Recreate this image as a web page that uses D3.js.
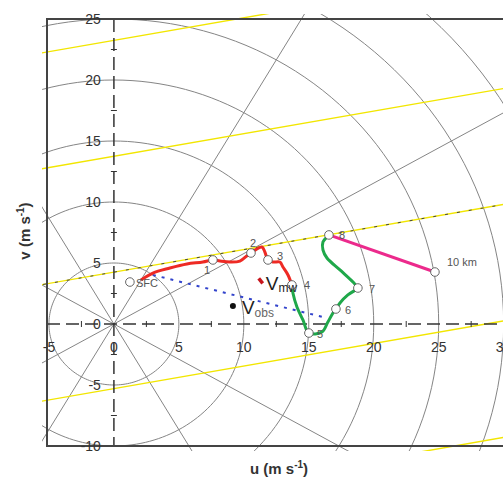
<!DOCTYPE html>
<html>
<head>
<meta charset="utf-8">
<script src="https://cdn.jsdelivr.net/npm/d3@7"></script>
<style>
  body { margin: 0; background: #fff; }
  text { font-family: Arial, "Liberation Sans", sans-serif; }
</style>
</head>
<body>
<div id="chart"></div>
<script>
// axis ticks
var uTicks = [-5, 0, 5, 10, 15, 20, 25, 30];
var vTicks = [-10, -5, 0, 5, 10, 15, 20, 25];
var minorU = [-2.5, 2.5, 7.5, 12.5, 17.5, 22.5, 27.5];
var minorV = [-7.5, -2.5, 2.5, 7.5, 12.5, 17.5, 22.5];

// polar grid
var ringRadii = [5, 10, 15, 20, 25, 30, 35, 40];
var spokeAngles = [30, 60, 120, 150, 210, 240, 300, 330];

// yellow reference lines: v = intercept + slope * u
var yellowIntercepts = [23.25, 13.75, 4.25, -5.3, -14.85];
var yellowSlope = 0.185;

// hodograph levels
var levelNames = ["SFC", "1", "2", "3", "4", "5", "6", "7", "8", "10 km"];
var levelU = [1.23, 7.62, 10.55, 11.86, 13.70, 15.01, 17.09, 18.78, 16.55, 24.71];
var levelV = [3.44, 5.25, 5.82, 5.25, 3.20, -0.74, 1.23, 2.95, 7.30, 4.26];

// traced curve segments
var redU = [2.08, 3.0, 4.31, 5.62, 6.85, 7.62, 8.16, 8.93, 9.70, 10.32, 10.55, 11.39, 11.62, 11.86, 12.24, 12.78, 13.01, 13.40, 13.70];
var redV = [3.61, 4.18, 4.59, 4.92, 5.08, 5.25, 5.16, 5.08, 5.16, 5.66, 5.82, 6.31, 5.90, 5.25, 5.08, 5.08, 4.67, 4.02, 3.20];
var greenU = [13.70, 13.78, 14.09, 14.55, 15.01, 16.01, 16.47, 16.86, 17.09, 17.40, 18.01, 18.71, 18.78, 18.40, 17.40, 16.40, 16.09, 16.09, 16.40, 16.55];
var greenV = [3.20, 2.54, 1.39, 0.33, -0.74, -0.66, 0.16, 0.90, 1.23, 1.72, 2.38, 2.87, 2.95, 3.44, 4.43, 5.41, 6.07, 6.72, 7.13, 7.30];
var magentaU = [16.55, 24.71];
var magentaV = [7.30, 4.26];
var shearU = [3.0, 16.4];
var shearV = [4.02, 0.49];

var vmw = [11.3, 3.5];
var vobs = [9.16, 1.48];

var width = 503, height = 478;
var plotLeft = 47, plotTop = 19, plotBottom = 446;

var svg = d3.select("#chart").append("svg")
    .attr("width", width)
    .attr("height", height);

var x = d3.scaleLinear().domain([-5.15, 29.95]).range([plotLeft, width]);
var y = d3.scaleLinear().domain([-10, 25]).range([plotBottom, plotTop]);

svg.append("clipPath").attr("id", "clip")
  .append("rect")
    .attr("x", plotLeft - 5).attr("y", plotTop - 5)
    .attr("width", width - plotLeft + 10).attr("height", plotBottom - plotTop + 10);

var plot = svg.append("g").attr("clip-path", "url(#clip)");

// rings (drawn in data space, so they come out slightly oval)
var ringLine = d3.line()
    .x(function (d) { return x(d[0]); })
    .y(function (d) { return y(d[1]); });

ringRadii.forEach(function (r) {
    var pts = d3.range(0, 361, 2).map(function (a) {
        var t = a * Math.PI / 180;
        return [r * Math.cos(t), r * Math.sin(t)];
    });
    plot.append("path")
        .attr("d", ringLine(pts))
        .attr("fill", "none")
        .attr("stroke", "#858585")
        .attr("stroke-width", 1);
});

spokeAngles.forEach(function (a) {
    var t = a * Math.PI / 180;
    plot.append("line")
        .attr("x1", x(0)).attr("y1", y(0))
        .attr("x2", x(60 * Math.cos(t))).attr("y2", y(60 * Math.sin(t)))
        .attr("stroke", "#858585")
        .attr("stroke-width", 1);
});

// yellow lines
yellowIntercepts.forEach(function (b, i) {
    plot.append("line")
        .attr("x1", x(-10)).attr("y1", y(b + yellowSlope * -10))
        .attr("x2", x(40)).attr("y2", y(b + yellowSlope * 40))
        .attr("stroke", "#f2e600")
        .attr("stroke-width", 1.4);
    if (i === 2) {
        plot.append("line")
            .attr("x1", x(-10)).attr("y1", y(b + yellowSlope * -10))
            .attr("x2", x(40)).attr("y2", y(b + yellowSlope * 40))
            .attr("stroke", "#444")
            .attr("stroke-width", 1)
            .attr("stroke-dasharray", "3,9");
    }
});

// dashed axes
plot.append("line")
    .attr("x1", x(0)).attr("x2", x(0))
    .attr("y1", plotTop).attr("y2", plotBottom)
    .attr("stroke", "#333").attr("stroke-width", 1.5)
    .attr("stroke-dasharray", "13,6");
plot.append("line")
    .attr("x1", plotLeft).attr("x2", width)
    .attr("y1", y(0)).attr("y2", y(0))
    .attr("stroke", "#333").attr("stroke-width", 1.5)
    .attr("stroke-dasharray", "13,6");

plot.selectAll(".mu").data(minorU).enter().append("line")
    .attr("x1", function (d) { return x(d); })
    .attr("x2", function (d) { return x(d); })
    .attr("y1", y(0) - 3).attr("y2", y(0) + 3)
    .attr("stroke", "#333");
plot.selectAll(".mv").data(minorV).enter().append("line")
    .attr("y1", function (d) { return y(d); })
    .attr("y2", function (d) { return y(d); })
    .attr("x1", x(0) - 3).attr("x2", x(0) + 3)
    .attr("stroke", "#333");

// frame (right side is cut off by the picture)
svg.append("path")
    .attr("d", "M" + (width + 5) + "," + plotTop + "H" + plotLeft + "V" + plotBottom + "H" + (width + 5))
    .attr("fill", "none")
    .attr("stroke", "#444")
    .attr("stroke-width", 2);

// tick labels
svg.selectAll(".ul").data(uTicks).enter().append("text")
    .attr("x", function (d) { return x(d); })
    .attr("y", y(0) + 28)
    .attr("text-anchor", "middle")
    .attr("font-size", 14)
    .attr("fill", "#333")
    .text(function (d) { return d; });
svg.selectAll(".vl").data(vTicks).enter().append("text")
    .attr("x", x(0) - 13)
    .attr("y", function (d) { return y(d) + 5; })
    .attr("text-anchor", "end")
    .attr("font-size", 14)
    .attr("fill", "#333")
    .text(function (d) { return d; });

// hodograph
function pts(us, vs) { return us.map(function (u, i) { return [u, vs[i]]; }); }
var smooth = d3.line()
    .x(function (d) { return x(d[0]); })
    .y(function (d) { return y(d[1]); })
    .curve(d3.curveCatmullRom);

svg.append("path").attr("d", ringLine(pts(shearU, shearV)))
    .attr("stroke", "#3344cc").attr("stroke-width", 2)
    .attr("stroke-dasharray", "3,6").attr("fill", "none");
svg.append("path").attr("d", smooth(pts(redU, redV)))
    .attr("stroke", "#ee2a24").attr("stroke-width", 3).attr("fill", "none");
svg.append("path").attr("d", smooth(pts(greenU, greenV)))
    .attr("stroke", "#1fa84a").attr("stroke-width", 3).attr("fill", "none");
svg.append("path").attr("d", ringLine(pts(magentaU, magentaV)))
    .attr("stroke", "#ec2a8c").attr("stroke-width", 3).attr("fill", "none");

svg.selectAll(".lvl").data(levelU).enter().append("circle")
    .attr("cx", function (d) { return x(d); })
    .attr("cy", function (d, i) { return y(levelV[i]); })
    .attr("r", 4.3)
    .attr("fill", "#fff")
    .attr("stroke", "#666")
    .attr("stroke-width", 1);

// label offsets in pixels, per level
var labelDx = [6, -9, -1, 9, 12, 8, 9, 11, 10, 12];
var labelDy = [5, 14, -6, 0, 4, 5, 5, 5, 4, -6];
svg.selectAll(".lt").data(levelNames).enter().append("text")
    .attr("x", function (d, i) { return x(levelU[i]) + labelDx[i]; })
    .attr("y", function (d, i) { return y(levelV[i]) + labelDy[i]; })
    .attr("font-size", 11)
    .attr("fill", "#555")
    .text(function (d) { return d; });

// mean wind and observed motion
svg.append("line")
    .attr("x1", x(vmw[0]) - 2).attr("y1", y(vmw[1]) - 3)
    .attr("x2", x(vmw[0]) + 2).attr("y2", y(vmw[1]) + 2)
    .attr("stroke", "#c8161d").attr("stroke-width", 3.5);
var t1 = svg.append("text")
    .attr("x", x(vmw[0]) + 5).attr("y", y(vmw[1]) + 9)
    .attr("font-size", 19).attr("fill", "#222");
t1.append("tspan").text("V");
t1.append("tspan").attr("font-size", 12).attr("dy", 2).text("mw");

svg.append("circle")
    .attr("cx", x(vobs[0])).attr("cy", y(vobs[1]))
    .attr("r", 3).attr("fill", "#111");
var t2 = svg.append("text")
    .attr("x", x(vobs[0]) + 9).attr("y", y(vobs[1]) + 8)
    .attr("font-size", 19).attr("fill", "#222");
t2.append("tspan").text("V");
t2.append("tspan").attr("font-size", 12).attr("dy", 3).attr("fill", "#666").text("obs");

// axis titles
var xt = svg.append("text")
    .attr("x", 279).attr("y", 474)
    .attr("text-anchor", "middle")
    .attr("font-size", 15).attr("font-weight", "bold").attr("fill", "#333");
xt.append("tspan").text("u (m s");
xt.append("tspan").attr("font-size", 10).attr("dy", -6).text("-1");
xt.append("tspan").attr("dy", 6).text(")");

var yt = svg.append("text")
    .attr("transform", "translate(30,231) rotate(-90)")
    .attr("text-anchor", "middle")
    .attr("font-size", 15).attr("font-weight", "bold").attr("fill", "#333");
yt.append("tspan").text("v (m s");
yt.append("tspan").attr("font-size", 10).attr("dy", -6).text("-1");
yt.append("tspan").attr("dy", 6).text(")");
</script>
</body>
</html>
